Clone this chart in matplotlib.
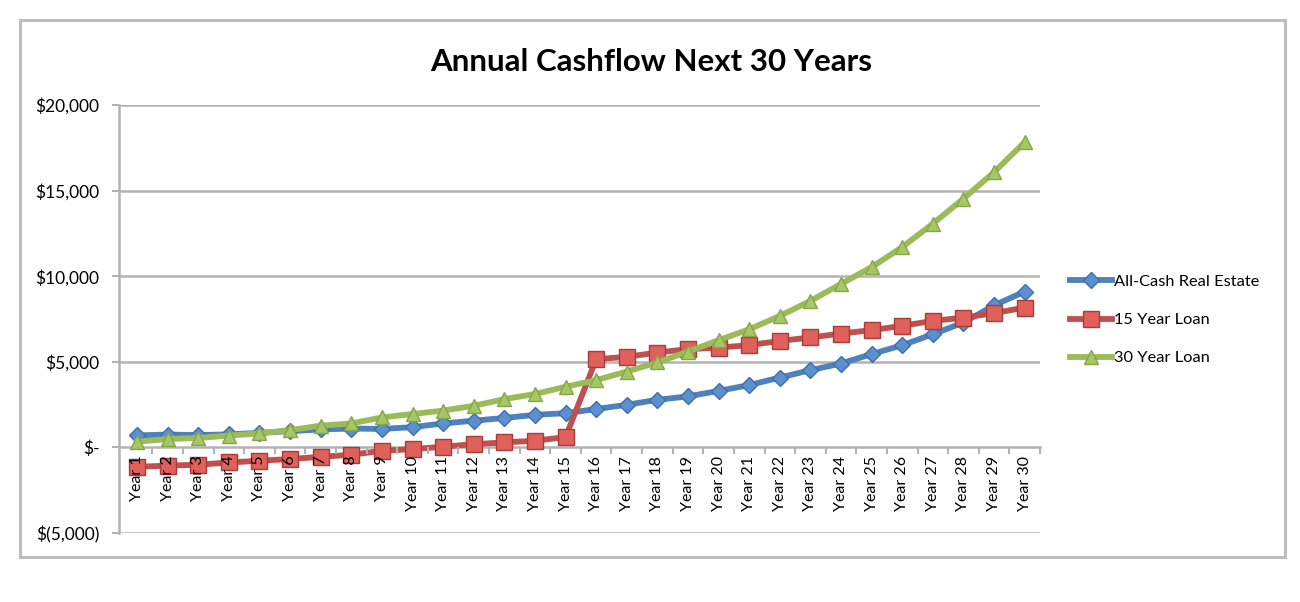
import matplotlib
matplotlib.use("Agg")
import matplotlib.pyplot as plt
from matplotlib.patches import Rectangle
from matplotlib.ticker import FuncFormatter

plt.rcParams['font.family'] = ['Lato', 'DejaVu Sans']

# Data
years = list(range(1, 31))
year_labels = ["Year %d" % y for y in years]

all_cash = [700, 750, 720, 760, 850, 950, 1050, 1100, 1080, 1180,
            1400, 1560, 1720, 1900, 2000, 2240, 2490, 2780, 2980, 3300,
            3640, 4080, 4510, 4900, 5450, 5970, 6610, 7290, 8300, 9100]
loan_15 = [-1130, -1070, -1010, -880, -780, -680, -550, -430, -200, -100,
           40, 190, 290, 390, 600, 5150, 5290, 5540, 5740, 5830,
           5970, 6220, 6420, 6650, 6850, 7100, 7390, 7580, 7840, 8170]
loan_30 = [330, 490, 550, 690, 820, 1010, 1270, 1400, 1750, 1950,
           2150, 2430, 2820, 3120, 3540, 3930, 4430, 4960, 5600, 6260,
           6900, 7680, 8560, 9550, 10530, 11700, 13070, 14530, 16080, 17830]

series_names = ["All-Cash Real Estate", "15 Year Loan", "30 Year Loan"]

W, H = 1300, 602
fig = plt.figure(figsize=(W / 100, H / 100), dpi=100)

# outer chart border
fig.patches.append(Rectangle((20 / W, 1 - 557 / H), 1265 / W, 537 / H,
                             transform=fig.transFigure, fill=False,
                             edgecolor='#bdbdbd', linewidth=2.2))

ax = fig.add_axes([119 / W, 1 - 533 / H, (1040 - 119) / W, (533 - 105) / H])

grid_col = '#b3b3b3'
for yv in [20000, 15000, 10000, 5000, -5000]:
    ax.axhline(yv, color=grid_col, linewidth=1.8, zorder=1)

ax.plot(years, all_cash, color='#4F81BD', linewidth=4.2, marker='D',
        markersize=8.5, markerfacecolor='#5b8fd0', markeredgecolor='#3f6faa',
        markeredgewidth=1, label=series_names[0], zorder=3)
ax.plot(years, loan_15, color='#C0504D', linewidth=4.2, marker='s',
        markersize=11, markerfacecolor='#e0605c', markeredgecolor='#a83c39',
        markeredgewidth=1, label=series_names[1], zorder=4)
ax.plot(years, loan_30, color='#9BBB59', linewidth=4.2, marker='^',
        markersize=10.5, markerfacecolor='#a6c766', markeredgecolor='#86a548',
        markeredgewidth=1, label=series_names[2], zorder=5)

ax.set_ylim(-5000, 20000)
ax.set_xlim(0.41, 30.5)
ax.set_yticks([-5000, 0, 5000, 10000, 15000, 20000])


def money(v, pos):
    if v == 0:
        return "$-"
    if v < 0:
        return "$(%s)" % format(int(-v), ",")
    return "$%s" % format(int(v), ",")


ax.yaxis.set_major_formatter(FuncFormatter(money))
ax.tick_params(axis='y', length=5, width=1.5, color=grid_col,
               labelsize=12.5, pad=9)

# category axis sits on zero, labels drawn over the markers
ax.spines['bottom'].set_position(('data', 0))
ax.spines['bottom'].set_color(grid_col)
ax.spines['bottom'].set_linewidth(1.8)
ax.spines['left'].set_color(grid_col)
ax.spines['left'].set_linewidth(1.8)
ax.spines['top'].set_visible(False)
ax.spines['right'].set_visible(False)
ax.xaxis.set_zorder(10)

ax.set_xticks(years)
ax.set_xticklabels(year_labels, rotation=90, fontsize=11.5)
ax.tick_params(axis='x', which='major', length=0, pad=6)
ax.set_xticks([y + 0.5 for y in years], minor=True)
ax.tick_params(axis='x', which='minor', length=5, width=1.5, color=grid_col)

fig.text(651 / W, 1 - 62 / H, "Annual Cashflow Next 30 Years",
         ha='center', va='center', fontsize=22.5, fontweight='bold')

fig.legend(loc='center left', bbox_to_anchor=(1055 / W, 1 - 320 / H),
           frameon=False, fontsize=11.8, handlelength=2.6,
           handletextpad=0.1, labelspacing=1.45)

fig.savefig("out.png", dpi=100)
